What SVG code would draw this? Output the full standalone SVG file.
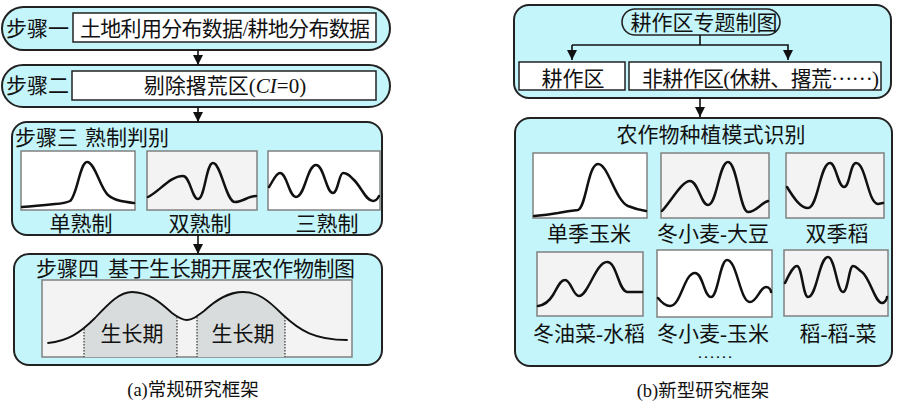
<svg xmlns="http://www.w3.org/2000/svg" width="900" height="405" viewBox="0 0 900 405">
<style>
.t{font-family:"Liberation Serif","Noto Sans CJK SC",serif;font-size:21px;fill:#111}
.c{text-anchor:middle}
.cap{font-size:18.5px}
.box{fill:#c4f5fa;stroke:#222;stroke-width:2}
.wr{fill:#fff;stroke:#222;stroke-width:1.5}
.chw{fill:#fff;stroke:#808080;stroke-width:1.5}
.chg{fill:#f3f3f3;stroke:#808080;stroke-width:1.5}
.cv{fill:none;stroke:#111;stroke-width:2.5;stroke-linejoin:round;stroke-linecap:round}
.ln{fill:none;stroke:#111;stroke-width:1.6}
.dot{fill:none;stroke:#333;stroke-width:1.2;stroke-dasharray:1.5 1.5}
</style>
<defs>
<marker id="ah" markerWidth="10" markerHeight="10" refX="10" refY="5" orient="auto" markerUnits="userSpaceOnUse"><path d="M0,0 L10,5 L0,10 z" fill="#111"/></marker>
<clipPath id="gp"><rect x="84" y="280" width="93" height="77"/><rect x="197" y="280" width="88" height="77"/></clipPath>
</defs>

<g id="step1">
<rect class="box" x="2" y="7" width="388" height="43" rx="21.5"/>
<rect class="wr" x="73" y="13" width="303" height="29"/>
<text class="t" x="6" y="36">步骤一</text>
<text class="t c" x="225" y="36" textLength="290">土地利用分布数据/耕地分布数据</text>
</g>

<g id="step2">
<rect class="box" x="2" y="65" width="388" height="42" rx="21"/>
<rect class="wr" x="72" y="71" width="304" height="29"/>
<text class="t" x="6" y="93">步骤二</text>
<text class="t c" x="225" y="93">剔除撂荒区(<tspan font-style="italic">CI</tspan>=0)</text>
</g>

<g id="step3">
<rect class="box" x="12" y="122" width="370" height="113" rx="15"/>
<text class="t" x="15" y="145">步骤三</text>
<text class="t" x="85" y="145">熟制判别</text>
<rect class="chw" x="21" y="151" width="114" height="59"/>
<rect class="chg" x="147" y="151" width="110" height="59"/>
<rect class="chw" x="268" y="151" width="112" height="59"/>
<path class="cv" d="M22,207 C35,206 45,205 55,204 C62,203.5 66,203 70,201 C77,196 80,162 87,162 C95,162 100,188 108,195 C115,201 125,202 134,203"/>
<path class="cv" d="M148,197 C160,191 170,176 183,176 C190,176 192,199 198,199 C205,199 206,163 213,163 C221,163 226,202 235,202 C243,202 248,196 256,196"/>
<path class="cv" d="M269,187 C273,181 276,173 280,173 C287,173 289,197 296,197 C305,197 307,165 316,165 C324,165 326,193 333,193 C338,193 339,173 343,173 C348,173 350,176 354,180 C362,188 366,201 373,201 C376,201 378,198 379,196"/>
<text class="t c" x="81" y="231">单熟制</text>
<text class="t c" x="200" y="231">双熟制</text>
<text class="t c" x="327" y="231">三熟制</text>
</g>

<g id="step4">
<rect class="box" x="14" y="254" width="368" height="111" rx="15"/>
<text class="t" x="36" y="276">步骤四</text>
<text class="t" x="108" y="276" textLength="247">基于生长期开展农作物制图</text>
<rect class="chg" x="42" y="280" width="310" height="77"/>
<path d="M48,343 C68,341 80,333 95,318 C110,302 120,292 132,292 C148,292 160,302 172,313 C180,319 183,320 187,320 C192,320 196,317 204,311 C216,300 228,292 243,292 C258,292 268,300 282,314 C300,331 315,340 347,340 L347,357 L48,357 Z" fill="#d8dcdc" clip-path="url(#gp)"/>
<path class="cv" style="stroke-width:1.8" d="M48,343 C68,341 80,333 95,318 C110,302 120,292 132,292 C148,292 160,302 172,313 C180,319 183,320 187,320 C192,320 196,317 204,311 C216,300 228,292 243,292 C258,292 268,300 282,314 C300,331 315,340 347,340"/>
<line class="dot" x1="84" y1="329" x2="84" y2="357"/>
<line class="dot" x1="177" y1="317" x2="177" y2="357"/>
<line class="dot" x1="197" y1="317" x2="197" y2="357"/>
<line class="dot" x1="285" y1="317" x2="285" y2="357"/>
<text class="t c" x="132" y="341">生长期</text>
<text class="t c" x="243" y="341">生长期</text>
</g>

<g id="top-right">
<rect class="box" x="514" y="5" width="377" height="93" rx="15"/>
<rect class="box" style="stroke-width:1.6" x="622" y="9" width="158" height="26" rx="13"/>
<text class="t c" x="704" y="30">耕作区专题制图</text>
<rect class="wr" x="519" y="62" width="106" height="28"/>
<text class="t c" x="573" y="86">耕作区</text>
<rect class="wr" x="629" y="62" width="252" height="28"/>
<text class="t" x="642" y="86" textLength="237">非耕作区(休耕、撂荒<tspan dy="-6">……</tspan><tspan dy="6">)</tspan></text>
</g>

<g id="bottom-right">
<rect class="box" x="515" y="118" width="377" height="248" rx="15"/>
<text class="t c" x="711" y="142">农作物种植模式识别</text>
<rect class="chw" x="533" y="153" width="114" height="65"/>
<rect class="chg" x="661" y="153" width="108" height="65"/>
<rect class="chg" x="786" y="153" width="98" height="65"/>
<path class="cv" d="M534,216 C545,215 552,214 558,213 C563,212 568,211 578,210 C586,208 588,164 598,164 C608,164 615,200 628,206 C635,209 640,210 646,211"/>
<path class="cv" d="M662,211 C672,200 682,181 690,181 C698,181 701,205 708,205 C717,205 719,162 728,162 C737,162 740,212 748,212 C756,212 761,203 768,201"/>
<path class="cv" d="M787,187 C795,200 801,208 808,208 C818,208 820,163 830,163 C836,163 838,187 844,187 C850,187 850,163 856,163 C866,163 868,204 878,204 L883,203"/>
<text class="t c" x="589" y="241">单季玉米</text>
<text class="t c" x="713" y="241">冬小麦-大豆</text>
<text class="t c" x="837" y="241">双季稻</text>
<rect class="chg" x="537" y="252" width="106" height="64"/>
<rect class="chw" x="657" y="250" width="115" height="67"/>
<rect class="chg" x="784" y="250" width="104" height="66"/>
<path class="cv" d="M538,306 C545,305 550,300 553,295 C558,287 560,280 565,280 C571,280 573,296 579,296 C588,296 596,262 607,262 C617,262 618,290 627,292 L642,292"/>
<path class="cv" d="M658,298 C662,303 666,306 670,306 C681,306 684,273 695,273 C703,273 704,297 711,297 C718,297 720,260 727,260 C737,260 740,302 750,302 C757,302 760,287 766,287 C769,287 771,290 771,292"/>
<path class="cv" d="M785,283 C789,275 793,266 797,266 C802,266 803,297 808,297 C817,297 819,257 828,257 C835,257 837,292 843,292 C848,292 849,266 853,266 C857,266 858,270 862,272 C870,278 875,303 882,303 C885,303 887,299 887,297"/>
<text class="t c" x="589" y="341">冬油菜-水稻</text>
<text class="t c" x="713" y="341">冬小麦-玉米</text>
<text class="t c" x="838" y="341">稻-稻-菜</text>
<text class="t" x="697" y="358" style="font-size:14px" textLength="36" lengthAdjust="spacingAndGlyphs">……</text>
</g>

<g id="connectors">
<line class="ln" x1="198" y1="50" x2="198" y2="65" marker-end="url(#ah)"/>
<line class="ln" x1="198" y1="107" x2="198" y2="122" marker-end="url(#ah)"/>
<line class="ln" x1="198" y1="235" x2="198" y2="254" marker-end="url(#ah)"/>
<polyline class="ln" points="700,35 700,45"/>
<polyline class="ln" points="572,45 788,45 788,60" marker-end="url(#ah)"/>
<polyline class="ln" points="572,45 572,60" marker-end="url(#ah)"/>
<line class="ln" x1="700" y1="98" x2="700" y2="117" marker-end="url(#ah)"/>
</g>

<g id="captions">
<text class="t c cap" x="193" y="396">(a)常规研究框架</text>
<text class="t c cap" x="703" y="397">(b)新型研究框架</text>
</g>
</svg>
